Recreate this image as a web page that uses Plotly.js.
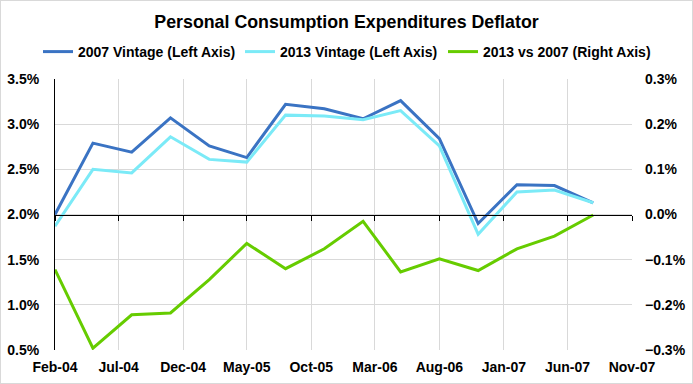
<!DOCTYPE html>
<html>
<head>
<meta charset="utf-8">
<script src="https://cdn.plot.ly/plotly-3.0.1.min.js"></script>
<style>
html,body{margin:0;padding:0;background:#fff;}
#chart{width:693px;height:384px;position:relative;}
#frame{position:absolute;left:0;top:0;width:691px;height:382px;border:1px solid #d9d9d9;pointer-events:none;}
</style>
</head>
<body>
<div id="chart"></div>
<script>
const dates = ['2004-02-01','2004-05-01','2004-08-01','2004-11-01','2005-02-01','2005-05-01','2005-08-01','2005-11-01','2006-02-01','2006-05-01','2006-08-01','2006-11-01','2007-02-01','2007-05-01','2007-08-01'];
const vintage2007 = [2.00,2.79,2.69,3.07,2.76,2.63,3.22,3.17,3.06,3.26,2.84,1.90,2.33,2.32,2.13];
const vintage2013 = [1.87,2.50,2.46,2.86,2.61,2.58,3.10,3.09,3.05,3.15,2.76,1.78,2.25,2.27,2.13];
const diff = [-0.122,-0.296,-0.222,-0.218,-0.144,-0.064,-0.120,-0.076,-0.015,-0.127,-0.098,-0.124,-0.076,-0.048,-0.001];
const tickDates = ['2004-02-01','2004-07-01','2004-12-01','2005-05-01','2005-10-01','2006-03-01','2006-08-01','2007-01-01','2007-06-01','2007-11-01'];
const tickLabels = ['Feb-04','Jul-04','Dec-04','May-05','Oct-05','Mar-06','Aug-06','Jan-07','Jun-07','Nov-07'];
const seriesNames = ['2007 Vintage (Left Axis)','2013 Vintage (Left Axis)','2013 vs 2007 (Right Axis)'];

const F = 'Liberation Sans, Arial, sans-serif';
const traces = [
  {x: dates, y: vintage2007, name: seriesNames[0], type: 'scatter', mode: 'lines', legend: 'legend', line: {color: '#3a73c3', width: 3}},
  {x: dates, y: vintage2013, name: seriesNames[1], type: 'scatter', mode: 'lines', legend: 'legend2', line: {color: '#7beaf7', width: 3}},
  {x: dates, y: diff, name: seriesNames[2], type: 'scatter', mode: 'lines', yaxis: 'y2', legend: 'legend3', line: {color: '#66cc00', width: 3}}
];
const legFont = {family: F, size: 14, color: '#000', weight: 'bold'};
function leg(px) {
  return {orientation: 'h', x: px/693, xref: 'container', xanchor: 'left', y: 1 - 52/384, yref: 'container', yanchor: 'middle',
          font: legFont, itemwidth: 30, bgcolor: 'rgba(0,0,0,0)', borderwidth: 0};
}
const tf = {family: F, size: 14, color: '#000', weight: 'bold'};
const layout = {
  width: 693, height: 384,
  margin: {l: 55, r: 61, t: 79, b: 34},
  paper_bgcolor: '#ffffff', plot_bgcolor: '#ffffff',
  font: {family: F, size: 14, color: '#000'},
  title: {text: '<b>Personal Consumption Expenditures Deflator</b>', font: {family: F, size: 17.8, color: '#000'},
          x: 346.5/693, xref: 'container', xanchor: 'center', y: 1 - 22/384, yref: 'container', yanchor: 'middle'},
  showlegend: true,
  legend: leg(38), legend2: leg(240), legend3: leg(443),
  xaxis: {type: 'date', range: ['2004-02-01','2007-11-01'], tickmode: 'array', tickvals: tickDates, ticktext: tickLabels,
          showgrid: true, gridcolor: '#d9d9d9', gridwidth: 1, showline: false, ticks: '', zeroline: false,
          tickfont: tf, ticklabelstandoff: 7},
  xaxis2: {type: 'date', range: ['2004-02-01','2007-11-01'], overlaying: 'x', anchor: 'free', position: 0.5, side: 'bottom',
           tickmode: 'array', tickvals: tickDates, showticklabels: false, showgrid: false, zeroline: false,
           showline: true, linecolor: '#000', linewidth: 1, ticks: 'outside', ticklen: 5, tickcolor: '#000', tickwidth: 1},
  yaxis: {range: [0.5, 3.5], dtick: 0.5, tick0: 0.5, tickformat: '.1f', ticksuffix: '%', showgrid: true, gridcolor: '#d9d9d9',
          showline: true, linecolor: '#000', linewidth: 1, ticks: '', zeroline: false,
          tickfont: tf, ticklabelstandoff: 12},
  yaxis2: {range: [-0.3, 0.3], dtick: 0.1, tick0: -0.3, tickformat: '.1f', ticksuffix: '%', overlaying: 'y', side: 'right',
           showgrid: false, zeroline: false, showline: false, ticks: '',
           tickfont: tf, ticklabelstandoff: 12}
};
traces.push({x: [dates[0]], y: [2], xaxis: 'x2', yaxis: 'y', mode: 'markers', marker: {opacity: 0}, showlegend: false, hoverinfo: 'skip'});
Plotly.newPlot('chart', traces, layout, {displayModeBar: false, staticPlot: true}).then(() => {
  const f = document.createElement('div'); f.id = 'frame'; document.getElementById('chart').appendChild(f);
});
</script>
</body>
</html>
